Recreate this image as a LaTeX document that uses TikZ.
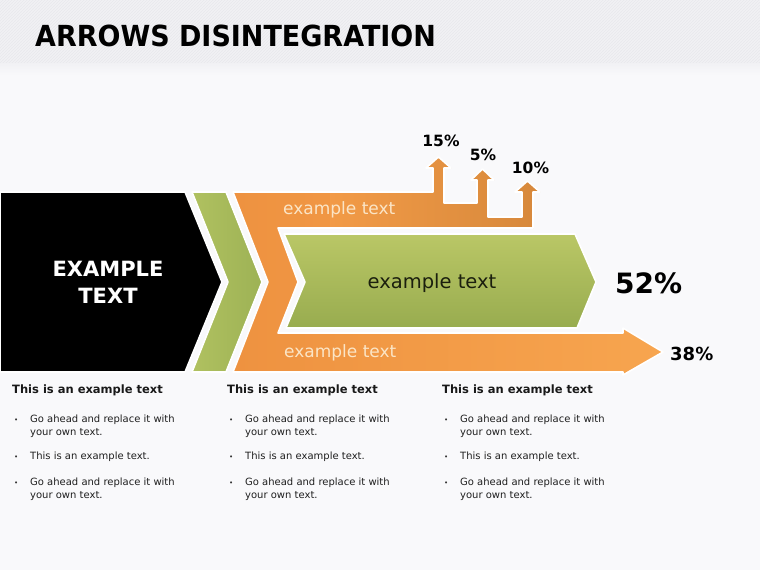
\documentclass[tikz,border=0pt]{standalone}
\usepackage{fontspec}
\setmainfont{DejaVu Sans}
\usepackage{graphicx}
\usetikzlibrary{patterns}
\definecolor{bgmain}{HTML}{F9F9FB}
\definecolor{bgtitle}{HTML}{F1F1F4}
\definecolor{stripe}{HTML}{E8E8EC}
\definecolor{orA}{HTML}{EE9240}
\definecolor{orB}{HTML}{F7A54F}
\definecolor{orDark}{HTML}{D6883B}
\definecolor{grA}{HTML}{B0C160}
\definecolor{grB}{HTML}{9DB255}
\definecolor{giTop}{HTML}{BAC766}
\definecolor{giBot}{HTML}{98AC4F}
\definecolor{cream}{HTML}{FBE5C6}
\definecolor{darktext}{HTML}{1B1F0E}
\newcommand\orangeshape[1]{\path[#1] (233,192) -- (433,192) -- (433,168) -- (426,168) -- (438.5,157) -- (451,168) -- (444,168) -- (444,203) -- (477,203) -- (477,180) -- (471,180) -- (482.5,169) -- (494,180) -- (488,180) -- (488,217) -- (522,217) -- (522,192) -- (515,192) -- (527.5,181) -- (540,192) -- (533,192) -- (533,228) -- (278,228) -- (298,282) -- (278,333) -- (623,333) -- (623,328) -- (663,352) -- (623,375) -- (623,372) -- (233,372) -- (268,282) -- cycle;}
\tikzset{
  outline/.style={draw=white, line width=1.6pt, line join=round},
  pct/.style={font=\bfseries\fontsize{15.5}{18}\selectfont, text=black, anchor=base, inner sep=0pt},
  bandtext/.style={font=\fontsize{17}{20}\selectfont, text=cream, anchor=base west, inner sep=0pt},
  colhead/.style={font=\bfseries\fontsize{11.5}{14}\selectfont, text=black!90, anchor=base west, inner sep=0pt},
  coltext/.style={font=\fontsize{10}{12}\selectfont, text=black!88, anchor=base west, inner sep=0pt},
  bullet/.style={font=\fontsize{7}{12}\selectfont, text=black!80, anchor=base west, inner sep=0pt},
}
\begin{document}
\begin{tikzpicture}[x=1pt,y=-1pt]
\useasboundingbox (0,0) rectangle (760,570);
% background
\fill[bgmain] (0,0) rectangle (760,570);
\fill[bgtitle] (0,0) rectangle (760,63);
\fill[pattern=north east lines, pattern color=stripe] (0,0) rectangle (760,63);
\fill[top color=bgtitle, bottom color=bgmain] (0,63) rectangle (760,75);
% title
\node[anchor=base west, inner sep=0pt, font=\bfseries\fontsize{29}{34}\selectfont] (title) at (35,46) {\scalebox{0.93}[1]{ARROWS DISINTEGRATION}};
% black pentagon
\path[fill=black, outline] (0,192) -- (185,192) -- (222,282) -- (185,372) -- (0,372) -- cycle;
% green chevron
\path[left color=grA, right color=grB, outline] (192,192) -- (226,192) -- (262,282) -- (226,372) -- (192,372) -- (228,282) -- cycle;
% orange shape
\orangeshape{left color=orA, right color=orB}
\begin{scope}
  \orangeshape{clip}
  \fill[left color=orA!55!orB, right color=orDark] (330,150) rectangle (545,230);
\end{scope}
\orangeshape{outline}
% inner green arrow
\path[top color=giTop, bottom color=giBot, outline] (284,234) -- (575,234) -- (596,282) -- (577,328) -- (286,328) -- (305,282) -- cycle;
% texts in shapes
\node[anchor=base, inner sep=0pt, text=white, font=\bfseries\fontsize{21}{25}\selectfont] (ex1) at (108,276) {EXAMPLE};
\node[anchor=base, inner sep=0pt, text=white, font=\bfseries\fontsize{21}{25}\selectfont] (ex2) at (108,303) {TEXT};
\node[bandtext] (bt1) at (283,214) {example text};
\node[bandtext] (bt2) at (284,357) {example text};
\node[anchor=base, inner sep=0pt, text=darktext, font=\fontsize{19.5}{22}\selectfont] (gt) at (432,288) {example text};
% percentages
\node[pct] (p15) at (441,146) {15\%};
\node[pct] (p5) at (483,160) {5\%};
\node[pct] (p10) at (530.5,173) {10\%};
\node[pct, anchor=base west, font=\bfseries\fontsize{28}{32}\selectfont] (p52) at (615,293) {52\%};
\node[pct, anchor=base west, font=\bfseries\fontsize{18}{22}\selectfont] (p38) at (670,360) {38\%};
% columns
\foreach \i/\x in {1/12,2/227,3/442}{
  \node[colhead] (h\i) at (\x,393) {This is an example text};
  \node[bullet] (ba\i) at (\x+2,422) {•};
  \node[coltext] (ta\i) at (\x+18,422) {Go ahead and replace it with};
  \node[coltext] (tb\i) at (\x+18,435) {your own text.};
  \node[bullet] (bb\i) at (\x+2,459) {•};
  \node[coltext] (tc\i) at (\x+18,459) {This is an example text.};
  \node[bullet] (bc\i) at (\x+2,485) {•};
  \node[coltext] (td\i) at (\x+18,485) {Go ahead and replace it with};
  \node[coltext] (te\i) at (\x+18,498) {your own text.};
}
\end{tikzpicture}
\end{document}
